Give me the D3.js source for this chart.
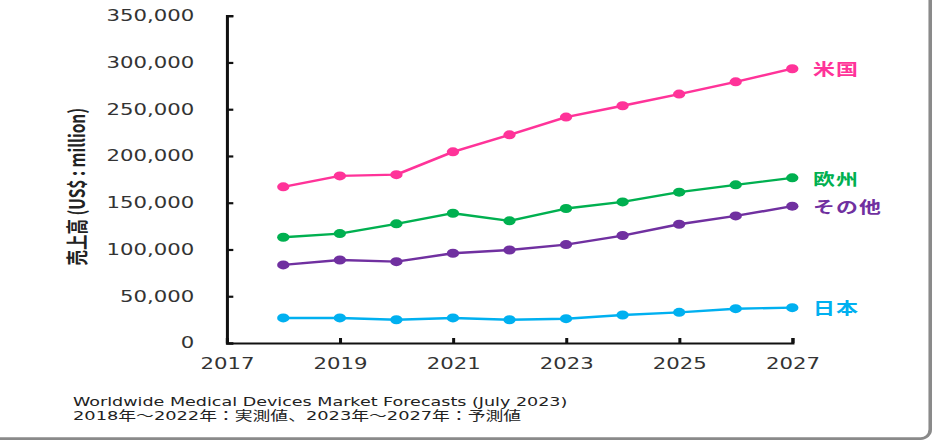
<!DOCTYPE html>
<html>
<head>
<meta charset="utf-8">
<script src="https://cdn.jsdelivr.net/npm/d3@7"></script>
<style>
  html, body { margin: 0; padding: 0; background: #fff; }
  svg { display: block; }
</style>
</head>
<body>
<svg id="chart" width="936" height="440"></svg>
<script>
// Worldwide medical device sales by region, US$ million
const years = [2018, 2019, 2020, 2021, 2022, 2023, 2024, 2025, 2026, 2027];
const seriesNames = ["米国", "欧州", "その他", "日本"];
const usaValues    = [167000, 178700, 180000, 204400, 222600, 241600, 253700, 266200, 279300, 293300];
const europeValues = [113100, 117000, 127400, 138800, 130600, 143800, 150900, 161300, 169100, 176600];
const otherValues  = [83500, 88800, 87000, 96000, 99500, 105200, 114900, 127000, 135900, 146300];
const japanValues  = [26800, 26800, 24900, 26800, 24900, 26000, 30000, 32800, 36700, 37800];
const seriesColors = ["#FF3399", "#00B050", "#7030A0", "#00B0F0"];
const yTickValues = [0, 50000, 100000, 150000, 200000, 250000, 300000, 350000];
const xTickValues = [2017, 2019, 2021, 2023, 2025, 2027];
const yTitle = "売上高 (US$ : million)";
const footerLines = [
  "Worldwide Medical Devices Market Forecasts (July 2023)",
  "2018年～2022年：実測値、2023年～2027年：予測値"
];

const series = seriesNames.map((name, i) => ({
  name,
  color: seriesColors[i],
  values: [usaValues, europeValues, otherValues, japanValues][i]
}));

// The whole drawing is laid out in a narrower space and stretched horizontally.
const SX = 1.37;
const svg = d3.select("#chart");
const root = svg.append("g").attr("transform", `scale(${SX},1)`);

const plot = { left: 165.5, right: 578.3, top: 15.7, bottom: 343 };

const x = d3.scaleLinear().domain([2017, 2027]).range([plot.left, plot.right]);
const y = d3.scaleLinear().domain([0, 350000]).range([plot.bottom, plot.top]);

// Frame
root.append("rect")
  .attr("x", -20).attr("y", -20)
  .attr("width", 679 + 20).attr("height", 438.6 + 20)
  .attr("rx", 7).attr("ry", 9)
  .attr("fill", "none")
  .attr("stroke", "#8a8a8a")
  .attr("stroke-width", 2.6);

// Axes
const axisColor = "#111";
const tickTextColor = "#333";

const yAxis = root.append("g")
  .attr("transform", `translate(${plot.left},0)`)
  .call(d3.axisLeft(y)
    .tickValues(yTickValues)
    .tickFormat(d3.format(","))
    .tickSizeInner(-4.8)
    .tickSizeOuter(-4.8)
    .tickPadding(23.7));

const xAxis = root.append("g")
  .attr("transform", `translate(0,${plot.bottom})`)
  .call(d3.axisBottom(x)
    .tickValues(xTickValues)
    .tickFormat(d3.format("d"))
    .tickSizeInner(-5)
    .tickSizeOuter(-5)
    .tickPadding(15));

[yAxis, xAxis].forEach(g => {
  g.attr("color", axisColor);
  g.select(".domain").attr("stroke-width", 2.2);
  g.selectAll(".tick line").attr("stroke-width", 2.2);
  g.selectAll(".tick text")
    .attr("fill", tickTextColor)
    .style("font-family", "'DejaVu Sans', Verdana, sans-serif")
    .style("font-size", "15.5px");
});

// Y axis title
root.append("text")
  .attr("transform", `translate(55.3,186.7) rotate(-90)`)
  .attr("text-anchor", "middle")
  .attr("dominant-baseline", "central")
  .attr("fill", "#222")
  .style("font-family", "'Noto Sans CJK JP', 'Liberation Sans Narrow', sans-serif")
  .style("font-weight", "bold")
  .style("font-size", "15.5px")
  .text(yTitle);

// Lines and markers
const line = d3.line()
  .x((d, i) => x(years[i]))
  .y(d => y(d));

const seriesG = root.selectAll(".series")
  .data(series)
  .join("g")
  .attr("class", "series");

seriesG.append("path")
  .attr("d", d => line(d.values))
  .attr("fill", "none")
  .attr("stroke", d => d.color)
  .attr("stroke-width", 2.4)
  .attr("stroke-linejoin", "round");

seriesG.selectAll("circle")
  .data(d => d.values.map((v, i) => ({ v, year: years[i], color: d.color })))
  .join("circle")
  .attr("cx", d => x(d.year))
  .attr("cy", d => y(d.v))
  .attr("r", 4.5)
  .attr("fill", d => d.color);

// Series labels at the line ends
seriesG.append("text")
  .attr("x", 593.4)
  .attr("y", d => y(d.values[d.values.length - 1]))
  .attr("dominant-baseline", "central")
  .attr("fill", d => d.color)
  .style("font-family", "'Noto Sans CJK JP', sans-serif")
  .style("font-weight", "bold")
  .style("font-size", "16px")
  .style("letter-spacing", "0.8px")
  .text(d => d.name);

// Source note
root.selectAll(".footer")
  .data(footerLines)
  .join("text")
  .attr("class", "footer")
  .attr("x", 53.3)
  .attr("y", (d, i) => 406.5 + i * 13.5)
  .attr("fill", "#222")
  .style("font-family", "'DejaVu Sans', Verdana, 'Noto Sans CJK JP', sans-serif")
  .style("font-size", (d, i) => (i === 0 ? "12.8px" : "13px"))
  .text(d => d);
</script>
</body>
</html>
